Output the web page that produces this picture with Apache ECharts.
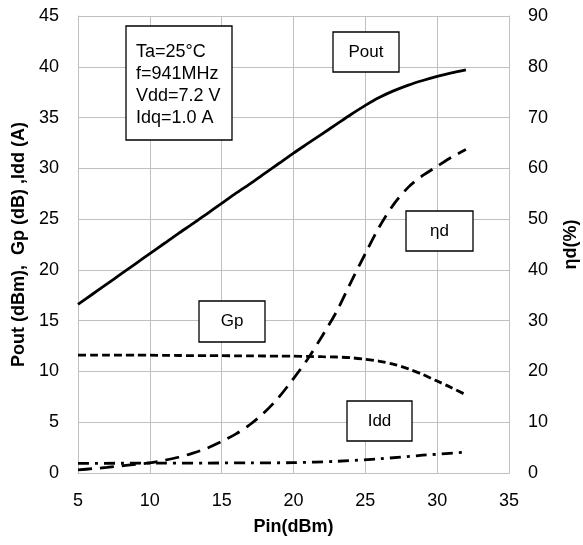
<!DOCTYPE html>
<html>
<head>
<meta charset="utf-8">
<script src="https://cdn.jsdelivr.net/npm/echarts@6/dist/echarts.min.js"></script>
<style>
html,body{margin:0;padding:0;background:#fff;}
#chart{width:583px;height:545px;}
</style>
</head>
<body>
<div id="chart"></div>
<script>
// Pin (dBm) values, 1 dB steps
const pinSteps = [5, 6, 7, 8, 9, 10, 11, 12, 13, 14, 15, 16, 17, 18, 19, 20, 21, 22, 23, 24, 25, 26, 27, 28, 29, 30, 31, 32];
const poutVals = [16.6, 17.6, 18.6, 19.6, 20.6, 21.6, 22.6, 23.6, 24.55, 25.55, 26.55, 27.55, 28.5, 29.5, 30.5, 31.5, 32.45, 33.4, 34.35, 35.3, 36.2, 37.0, 37.65, 38.2, 38.65, 39.05, 39.4, 39.7];
const gpVals = [11.6, 11.6, 11.6, 11.6, 11.6, 11.6, 11.58, 11.57, 11.56, 11.55, 11.55, 11.54, 11.53, 11.52, 11.51, 11.5, 11.48, 11.45, 11.42, 11.35, 11.2, 11.0, 10.7, 10.25, 9.7, 9.05, 8.4, 7.7];
const effVals = [0.6, 0.85, 1.1, 1.4, 1.7, 2.0, 2.5, 3.1, 3.9, 4.9, 6.2, 7.7, 9.6, 12.0, 15.0, 18.6, 22.5, 27.0, 31.8, 37.6, 43.2, 48.6, 53.0, 56.3, 58.6, 60.4, 62.2, 63.7];

// Idd, 3 dB steps
const pinIdd = [5, 8, 11, 14, 17, 20, 23, 26, 29, 32];
const iddVals = [0.95, 0.96, 0.97, 0.98, 1.0, 1.02, 1.15, 1.4, 1.75, 2.05];

const xTicks = [5, 10, 15, 20, 25, 30, 35];
const leftTicks = [0, 5, 10, 15, 20, 25, 30, 35, 40, 45];
const rightTicks = [0, 10, 20, 30, 40, 50, 60, 70, 80, 90];

const infoLines = ['Ta=25°C', 'f=941MHz', 'Vdd=7.2 V', 'Idq=1.0 A'];
const curveLabels = ['Pout', 'Gp', 'Idd', 'ηd'];

const zip = (xs, ys) => xs.map((x, i) => [x, ys[i]]);
const FONT = '"Liberation Sans", Arial, sans-serif';
const gridColor = '#c0c0c0';

const chart = echarts.init(document.getElementById('chart'), null, {renderer: 'canvas'});

function box(x, y, w, h, lines, align) {
  const children = [{
    type: 'rect', z: 100,
    shape: {x: x, y: y, width: w, height: h},
    style: {fill: '#ffffff', stroke: '#000', lineWidth: 1.3}
  }];
  if (align === 'left') {
    lines.forEach((t, i) => children.push({
      type: 'text', z: 101, x: x + 10, y: y + 26 + i * 22,
      style: {text: t, font: '18px ' + FONT, fill: '#000', textVerticalAlign: 'middle', textAlign: 'left'}
    }));
  } else {
    children.push({
      type: 'text', z: 101, x: x + w / 2, y: y + h / 2,
      style: {text: lines[0], font: '17px ' + FONT, fill: '#000', textVerticalAlign: 'middle', textAlign: 'center'}
    });
  }
  return children;
}

const lineSeries = (name, axis, xs, ys, type) => ({
  name, type: 'line', yAxisIndex: axis, smooth: 0.3, symbol: 'none',
  data: zip(xs, ys),
  lineStyle: {color: '#000', width: 2.8, type}
});

const option = {
  backgroundColor: '#fff',
  animation: false,
  grid: {left: 78, right: 74, top: 16, bottom: 72, containLabel: false, outerBoundsMode: 'none'},
  xAxis: {
    type: 'value', min: xTicks[0], max: xTicks[xTicks.length - 1], interval: 5,
    name: 'Pin(dBm)', nameLocation: 'middle', nameGap: 45,
    nameTextStyle: {fontFamily: FONT, fontSize: 18, fontWeight: 'bold', color: '#000'},
    axisLine: {show: true, lineStyle: {color: gridColor, width: 1}},
    axisTick: {show: false},
    axisLabel: {fontFamily: FONT, fontSize: 18, color: '#000', margin: 19},
    splitLine: {show: true, lineStyle: {color: gridColor, width: 1}}
  },
  yAxis: [{
    type: 'value', min: leftTicks[0], max: leftTicks[leftTicks.length - 1], interval: 5,
    name: 'Pout (dBm),  Gp (dB) ,Idd (A)', nameLocation: 'middle', nameGap: 50, nameRotate: 90,
    nameTextStyle: {fontFamily: FONT, fontSize: 18, fontWeight: 'bold', color: '#000'},
    axisLine: {show: true, lineStyle: {color: gridColor, width: 1}},
    axisTick: {show: false},
    axisLabel: {fontFamily: FONT, fontSize: 18, color: '#000', margin: 19},
    splitLine: {show: true, lineStyle: {color: gridColor, width: 1}}
  }, {
    type: 'value', min: rightTicks[0], max: rightTicks[rightTicks.length - 1], interval: 10,
    position: 'right',
    name: 'ηd(%)', nameLocation: 'middle', nameGap: 53, nameRotate: 90,
    nameTextStyle: {fontFamily: FONT, fontSize: 18, fontWeight: 'bold', color: '#000'},
    axisLine: {show: true, lineStyle: {color: gridColor, width: 1}},
    axisTick: {show: false},
    axisLabel: {fontFamily: FONT, fontSize: 18, color: '#000', margin: 19},
    splitLine: {show: false}
  }],
  series: [
    lineSeries('Pout', 0, pinSteps, poutVals, 'solid'),
    lineSeries('Gp', 0, pinSteps, gpVals, [8, 4]),
    lineSeries('Idd', 0, pinIdd, iddVals, [11, 6, 3, 6]),
    lineSeries('ηd', 1, pinSteps, effVals, [14, 8])
  ],
  graphic: [].concat(
    box(126, 26, 106, 114, infoLines, 'left'),
    box(333, 32, 66, 40, [curveLabels[0]]),
    box(199, 301, 66, 41, [curveLabels[1]]),
    box(347, 401, 65, 40, [curveLabels[2]]),
    box(406, 211, 67, 40, [curveLabels[3]])
  )
};
chart.setOption(option);
</script>
</body>
</html>
